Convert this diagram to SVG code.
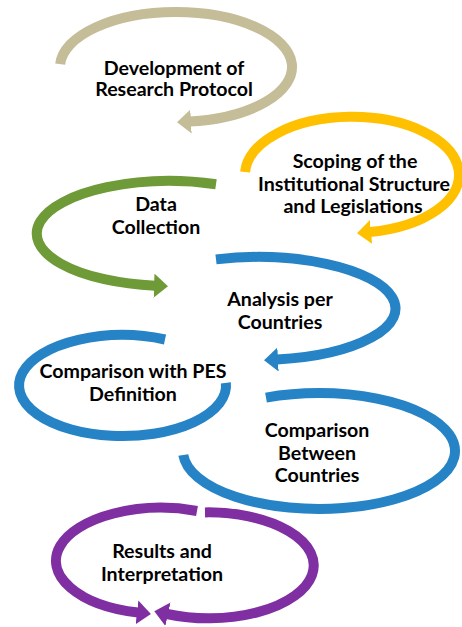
<svg xmlns="http://www.w3.org/2000/svg" width="462" height="627" viewBox="0 0 462 627">
<style>
.arc{fill:none;stroke-width:10;stroke-linecap:butt}
.lbl{font-family:Lato,"Liberation Sans",sans-serif;font-weight:700;font-size:19.6px;fill:#000;text-anchor:middle}
</style>
<defs>
<marker id="aTan" markerUnits="userSpaceOnUse" viewBox="0 0 14 24" markerWidth="14" markerHeight="24" refX="1" refY="12" orient="auto"><path d="M0,0 L14,12 L0,24 Z" fill="#C4BD97"/></marker>
<marker id="aYel" markerUnits="userSpaceOnUse" viewBox="0 0 14 24" markerWidth="14" markerHeight="24" refX="1" refY="12" orient="auto"><path d="M0,0 L14,12 L0,24 Z" fill="#FFC000"/></marker>
<marker id="aGrn" markerUnits="userSpaceOnUse" viewBox="0 0 14 24" markerWidth="14" markerHeight="24" refX="1" refY="12" orient="auto"><path d="M0,0 L14,12 L0,24 Z" fill="#6E9A38"/></marker>
<marker id="aBlu" markerUnits="userSpaceOnUse" viewBox="0 0 14 24" markerWidth="14" markerHeight="24" refX="1" refY="12" orient="auto"><path d="M0,0 L14,12 L0,24 Z" fill="#2683C6"/></marker>
<marker id="aPur" markerUnits="userSpaceOnUse" viewBox="0 0 14 24" markerWidth="14" markerHeight="24" refX="1" refY="12" orient="auto"><path d="M0,0 L14,12 L0,24 Z" fill="#7F2FA2"/></marker>
</defs>
<rect width="462" height="627" fill="#fff"/>
<g id="connectors">
<path class="arc" stroke="#C4BD97" d="M60.2 64.1 A116 55 0 1 1 190 121.6" marker-end="url(#aTan)"/>
<path class="arc" stroke="#FFC000" d="M245.1 172 A107 58 0 1 1 370 232" marker-end="url(#aYel)"/>
<path class="arc" stroke="#6E9A38" d="M216 184.3 A133 52.5 0 1 0 155 285.7" marker-end="url(#aGrn)"/>
<path class="arc" stroke="#2683C6" d="M216 259.4 A138 51.5 0 1 1 277 359.5" marker-end="url(#aBlu)"/>
<path class="arc" stroke="#2683C6" d="M165 339.5 A103.5 50.5 0 1 0 225.9 382.9"/>
<path class="arc" stroke="#2683C6" d="M266 397.6 A136 58 0 1 1 183.3 455"/>
<path class="arc" stroke="#7F2FA2" d="M197 511 A105 53 0 1 0 138 612.5" marker-end="url(#aPur)"/>
<path class="arc" stroke="#7F2FA2" d="M205 512.4 A105 53 0 1 1 167 614" marker-end="url(#aPur)"/>
</g>
<g id="n1"><text class="lbl" x="174" y="75">Development of</text><text class="lbl" x="174" y="96">Research Protocol</text></g>
<g id="n2"><text class="lbl" x="355" y="168">Scoping of the</text><text class="lbl" x="354" y="191">Institutional Structure</text><text class="lbl" x="353" y="213">and Legislations</text></g>
<g id="n3"><text class="lbl" x="156" y="211">Data</text><text class="lbl" x="156" y="234">Collection</text></g>
<g id="n4"><text class="lbl" x="280" y="306">Analysis per</text><text class="lbl" x="280" y="329">Countries</text></g>
<g id="n5"><text class="lbl" x="133" y="378">Comparison with PES</text><text class="lbl" x="133" y="401">Definition</text></g>
<g id="n6"><text class="lbl" x="317" y="437">Comparison</text><text class="lbl" x="317" y="460">Between</text><text class="lbl" x="317" y="482">Countries</text></g>
<g id="n7"><text class="lbl" x="162" y="558">Results and</text><text class="lbl" x="162" y="581">Interpretation</text></g>
</svg>
